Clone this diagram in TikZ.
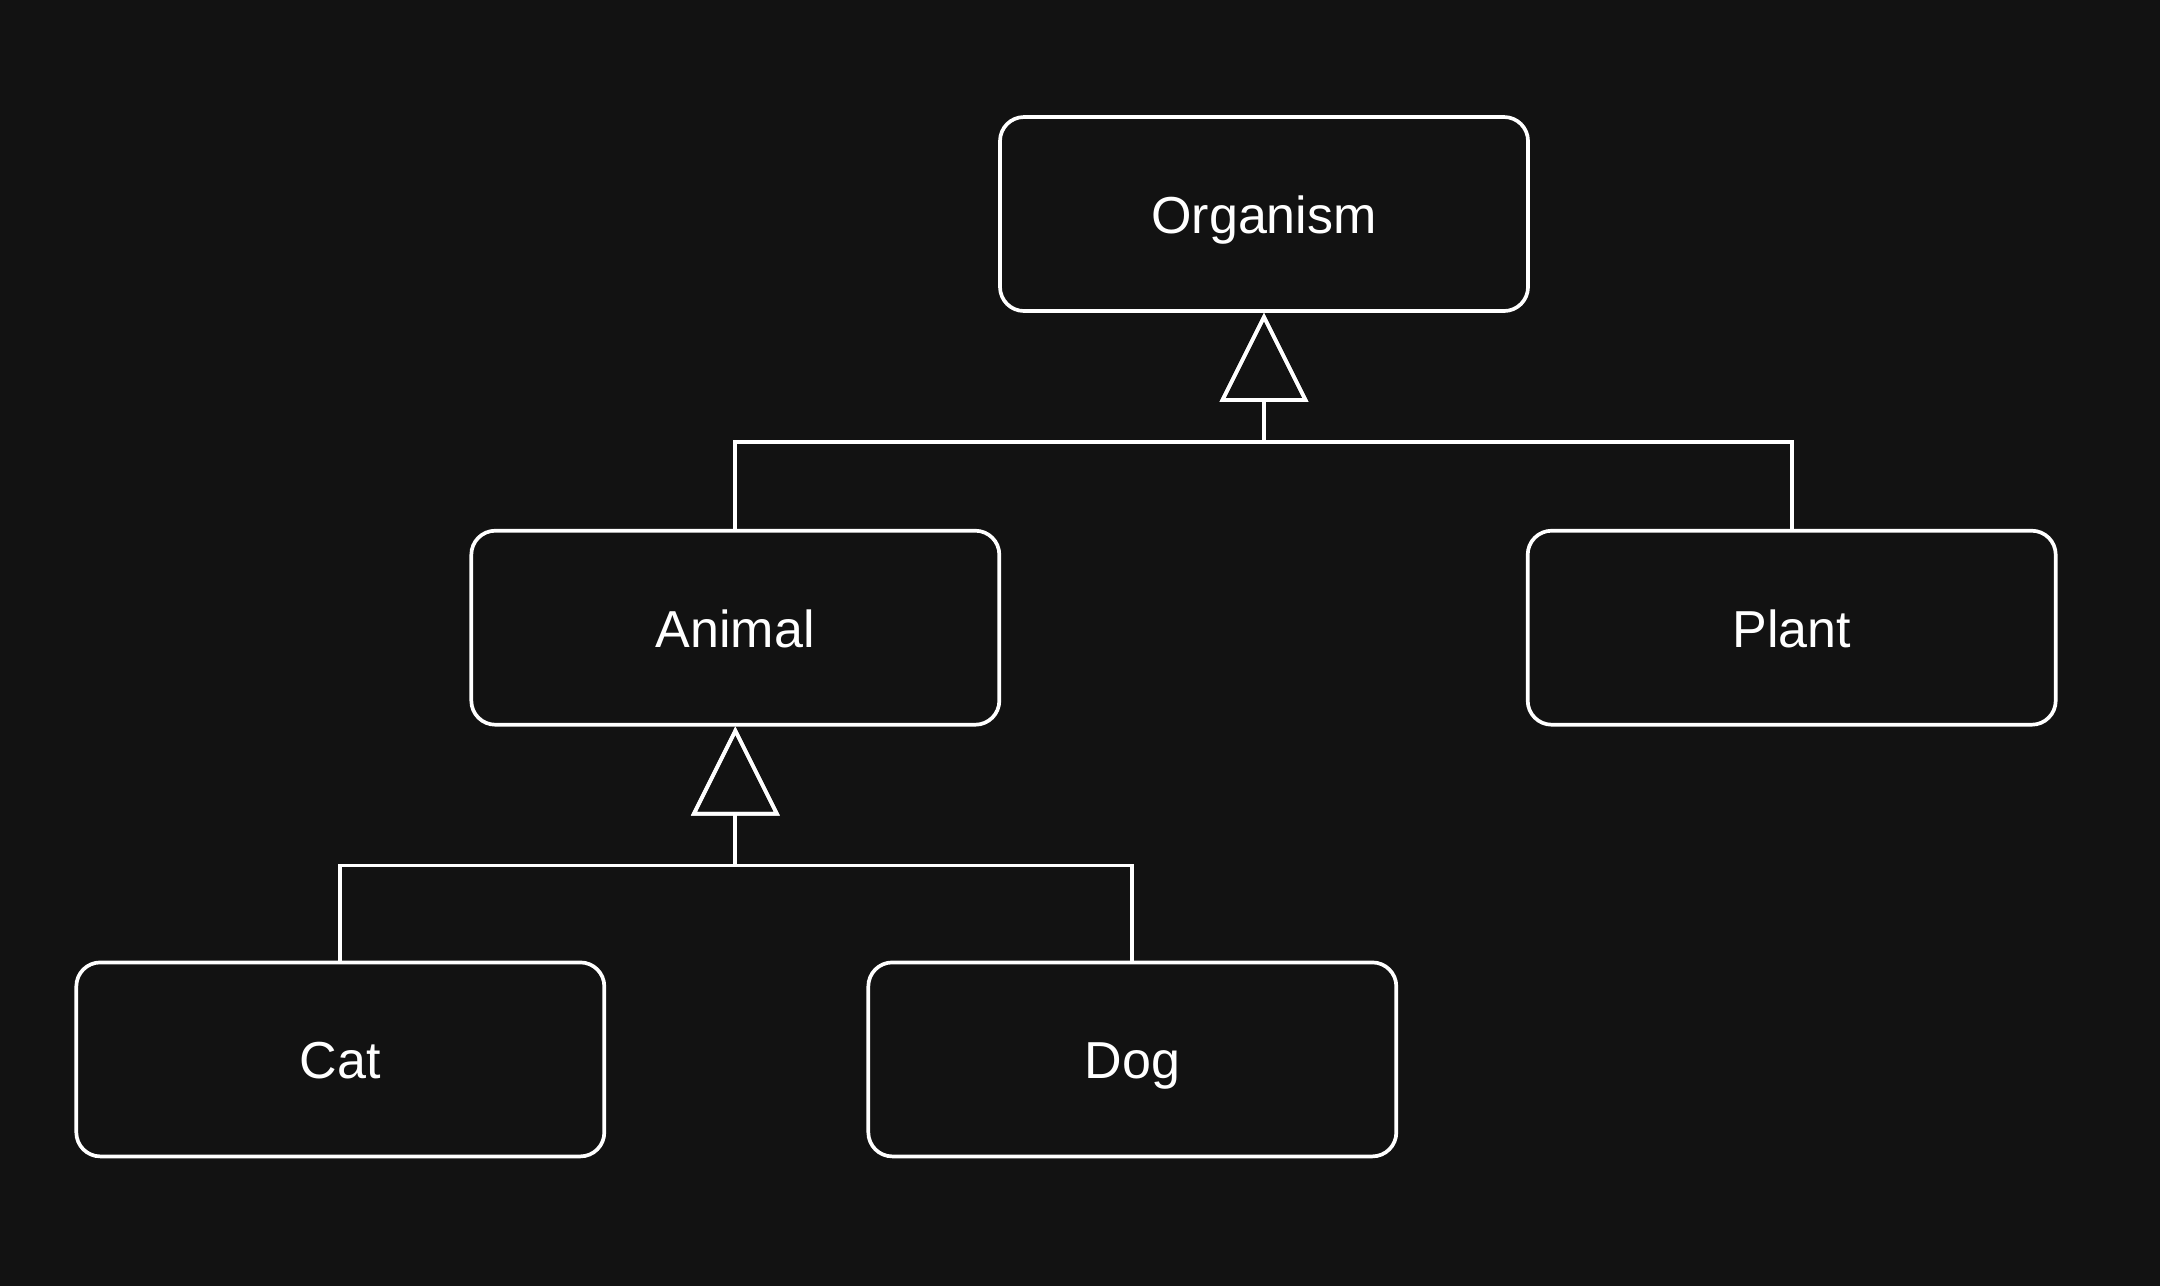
\documentclass[tikz,border=0pt]{standalone}
\usepackage{fontspec}
\setmainfont{Liberation Sans}
\usetikzlibrary{positioning}
\usetikzlibrary{arrows.meta}

\definecolor{bgdark}{HTML}{121212}

\tikzset{
	classbox/.style={draw=white, line width=1.05pt, rounded corners=0.24cm, fill=bgdark,
		minimum width=5.28cm, minimum height=1.94cm, inner sep=0pt, text=white,
		font=\fontsize{14.8pt}{18pt}\selectfont, text height=11pt, text depth=0pt},
	inherit/.style={draw=white, line width=1.05pt, -{Triangle[open, length=0.89cm, width=0.88cm]}},
}

\begin{document}
\begin{tikzpicture}
	  % Background and page size
	  \fill[bgdark] (0,0) rectangle (21.6,-12.86);
	  \useasboundingbox (0,0) rectangle (21.6,-12.86);
	
	  % Class boxes
	  \node[classbox] (organism) at (12.64,-2.14) {Organism};
	  \node[classbox, below left=2.16cm and -0.03cm of organism] (animal) {Animal};
	  \node[classbox, below right=2.16cm and -0.04cm of organism] (plant) {Plant};
	  \node[classbox, below=2.34cm of animal, xshift=-3.95cm] (cat) {Cat};
	  \node[classbox, below=2.34cm of animal, xshift=3.97cm] (dog) {Dog};
	
	  % Generalisation arrows
	  \draw[inherit] (animal.north) -- ++(0,0.87) -| (organism.south);
	  \draw[inherit] (plant.north) -- ++(0,0.87) -| (organism.south);
	  \draw[inherit] (cat.north) -- ++(0,0.95) -| (animal.south);
	  \draw[inherit] (dog.north) -- ++(0,0.95) -| (animal.south);
	\end{tikzpicture}
\end{document}
